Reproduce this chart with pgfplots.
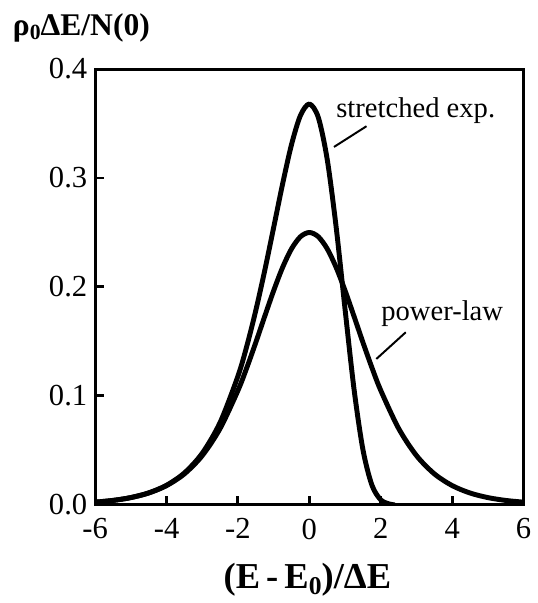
\documentclass[border=0pt]{standalone}
\usepackage{fontspec}
\setmainfont{Liberation Serif}
\usepackage{pgfplots}
\pgfplotsset{compat=1.18}
\begin{document}
\begin{tikzpicture}
\begin{axis}[
  scale only axis, width=217.25pt, height=221pt,
  xmin=-6, xmax=6, ymin=0, ymax=0.4,
  axis line style={line width=1.5pt},
  xtick={-6,-4,-2,0,2,4,6}, xticklabels={-6,-4,-2,0,2,4,6},
  ytick={0,0.1,0.2,0.3,0.4}, yticklabels={0.0,0.1,0.2,0.3,0.4},
  xtick pos=bottom, ytick pos=left, tick align=inside,
  major tick length=4.5pt, tick style={line width=1.5pt, black},
  tick label style={font=\fontsize{15.5}{15.5}\selectfont},
  xticklabel style={yshift=-3.5pt},
  yticklabel style={xshift=-0.5pt},
  xlabel={\textbf{(E\,-\,E\raisebox{-0.35ex}{\fontsize{13}{13}\selectfont 0})/ΔE}},
  every axis x label/.style={at={(rel axis cs:0.5,0)}, anchor=base, yshift=-42.5pt, xshift=-1pt, font=\fontsize{18.5}{18.5}\selectfont},
  ylabel={\textbf{ρ\raisebox{-0.3ex}{\fontsize{11}{11}\selectfont 0}ΔE/N(0)}},
  every axis y label/.style={at={(rel axis cs:0,1)}, anchor=base, yshift=17pt, xshift=-7pt, font=\fontsize{16}{16}\selectfont},
  clip=true,
]
% power-law
\addplot[line width=2.5pt, smooth, line join=round] coordinates {
(-6,0.00247) (-5.5,0.00405) (-5,0.00665) (-4.5,0.01087) (-4,0.01766)
(-3.5,0.02845) (-3,0.0452) (-2.5,0.0701) (-2,0.1050) (-1.75,0.1261)
(-1.5,0.1491) (-1.25,0.1731) (-1,0.1966) (-0.75,0.2179) (-0.5,0.2350)
(-0.25,0.2461) (0,0.25) (0.25,0.2461) (0.5,0.2350) (0.75,0.2179)
(1,0.1966) (1.25,0.1731) (1.5,0.1491) (1.75,0.1261) (2,0.1050)
(2.5,0.0701) (3,0.0452) (3.5,0.02845) (4,0.01766) (4.5,0.01087)
(5,0.00665) (5.5,0.00405) (6,0.00247)
};
% stretched exp.
\addplot[line width=2.5pt, smooth, line join=round] coordinates {
(-6,0.00247) (-5.5,0.00407) (-5,0.00669) (-4.5,0.01099) (-4,0.01798)
(-3.5,0.02930) (-3,0.04737) (-2.5,0.07564) (-2,0.1182) (-1.75,0.1460)
(-1.5,0.1785) (-1.25,0.2151) (-1,0.2546) (-0.75,0.2945) (-0.5,0.3307)
(-0.25,0.3574) (0,0.3679) (0.25,0.3556) (0.5,0.3170) (0.75,0.2549)
(1,0.1794) (1.25,0.1064) (1.5,0.0507) (1.75,0.01823) (2,0.00457)
(2.25,0.00072) (2.4,0)
};
\node[font=\fontsize{14.5}{14.5}\selectfont] at (axis cs:2.98,0.362) {stretched exp.};
\node[font=\fontsize{14.5}{14.5}\selectfont] at (axis cs:3.72,0.1756) {power-law};
\draw[line width=1pt] (axis cs:1.60,0.3475) -- (axis cs:0.69,0.3285);
\draw[line width=1pt] (axis cs:2.70,0.1584) -- (axis cs:1.876,0.1339);
\end{axis}
\path (-48.25pt,-45.5pt) rectangle (220.75pt,256pt);
\end{tikzpicture}
\end{document}
